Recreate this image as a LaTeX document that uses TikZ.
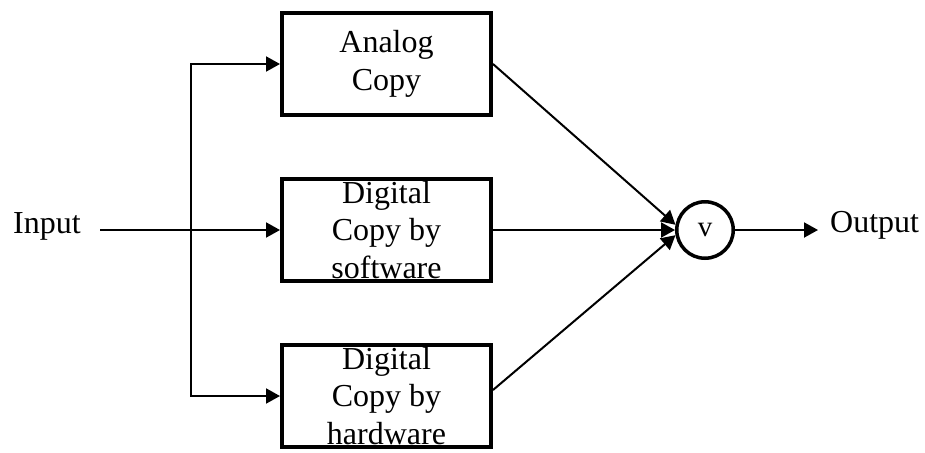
\documentclass[tikz,border=0pt]{standalone}
\usepackage{fontspec}
\setmainfont{Liberation Serif}
\usetikzlibrary{arrows.meta}
\begin{document}
\begin{tikzpicture}[x=1pt,y=-1pt,
  blk/.style={draw, line width=4pt, minimum width=209pt, minimum height=102pt, inner sep=0pt},
  lbl/.style={font=\fontsize{32}{37.5}\selectfont, align=center, inner sep=0pt},
  wire/.style={line width=2pt},
  arr/.style={wire, -{Triangle[length=14pt,width=15pt]}},
  orgate/.style={circle, draw, line width=3.5pt, minimum size=56.5pt, inner sep=0pt,
                 font=\fontsize{29}{34}\selectfont}
  ]
\useasboundingbox (0,0) rectangle (925,452);

% the three copy paths
\node[blk] (a) at (386.5,64) {};
\node[blk] (b) at (386.5,230) {};
\node[blk] (c) at (386.5,396) {};
\node[lbl] (ta) at (a.center) {Analog\\Copy};
\node[lbl] (tb) at (b.center) {Digital\\Copy by\\software};
\node[lbl] (tc) at (c.center) {Digital\\Copy by\\hardware};

% combining gate
\node[orgate] (v) at (705,230) {v};

% input and fan-out
\node[lbl, anchor=base west] (inlbl) at (13,233) {Input};
\coordinate (in) at (100,230);
\coordinate (sp) at (191,230);
\draw[arr] (in) -- (b.west);
\draw[arr] (sp) |- (a.west);
\draw[arr] (sp) |- (c.west);

% paths into the gate
\draw[arr] (a.east) -- (v.170);
\draw[arr] (b.east) -- (v.west);
\draw[arr] ([yshift=6pt]c.east) -- (v.190);

% output
\coordinate (out) at (818,230);
\draw[arr] (v.east) -- (out);
\node[lbl, anchor=base west] (outlbl) at (830,232) {Output};
\end{tikzpicture}
\end{document}
